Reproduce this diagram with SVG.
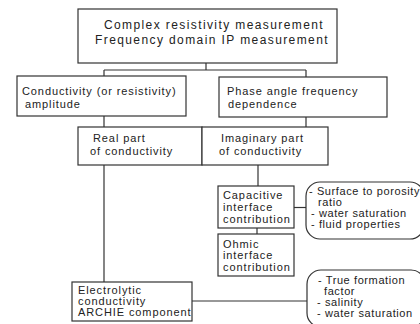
<svg xmlns="http://www.w3.org/2000/svg" width="420" height="324" viewBox="0 0 420 324">
<style>
.b{fill:#fff;stroke:#333;stroke-width:1.2}
.c{fill:none;stroke:#333;stroke-width:1.2}
text{font-family:"Liberation Sans",Arial,sans-serif;font-size:11px;fill:#222;letter-spacing:0.9px}
.t{font-size:12px;letter-spacing:1.4px}
.n{letter-spacing:0.6px}
</style>
<rect width="420" height="324" fill="#fff"/>
<g id="connectors">
<path class="c" d="M206,63V70M104,70H306M104,70V76M306,70V77"/>
<path class="c" d="M104,116V127M306,117V127"/>
<path class="c" d="M104,165V282"/>
<path class="c" d="M258,165V186"/>
<path class="c" d="M257,228V234"/>
<path class="c" d="M294,207.5H306"/>
<path class="c" d="M192,301H307"/>
</g>
<g id="top">
<rect class="b" x="78" y="9" width="259" height="54"/>
<text class="t" x="214" y="29" text-anchor="middle">Complex resistivity measurement</text>
<text class="t" x="212" y="44" text-anchor="middle">Frequency domain IP measurement</text>
</g>
<g id="amplitude">
<rect class="b" x="17" y="76" width="169" height="40"/>
<text x="22" y="95">Conductivity (or resistivity)</text>
<text x="25" y="108">amplitude</text>
</g>
<g id="phase">
<rect class="b" x="219" y="77" width="168" height="40"/>
<text x="227" y="95">Phase angle frequency</text>
<text x="228" y="108">dependence</text>
</g>
<g id="real">
<rect class="b" x="78" y="127" width="124" height="38"/>
<text x="93" y="142">Real part</text>
<text x="90" y="155">of conductivity</text>
</g>
<g id="imaginary">
<rect class="b" x="202" y="127" width="126" height="38"/>
<text x="221" y="142">Imaginary part</text>
<text x="219" y="155">of conductivity</text>
</g>
<g id="capacitive">
<rect class="b" x="218" y="186" width="76" height="42"/>
<text x="223" y="199">Capacitive</text>
<text x="223" y="211">interface</text>
<text x="223" y="223">contribution</text>
</g>
<g id="ohmic">
<rect class="b" x="218" y="234" width="76" height="42"/>
<text x="223" y="248">Ohmic</text>
<text x="223" y="259">interface</text>
<text x="223" y="271">contribution</text>
</g>
<g id="electrolytic">
<rect class="b" x="72" y="282" width="120" height="39"/>
<text x="78" y="294">Electrolytic</text>
<text x="78" y="305">conductivity</text>
<text x="78" y="316">ARCHIE component</text>
</g>
<g id="notes1">
<rect class="b" x="306" y="182" width="118" height="57" rx="14"/>
<text class="n" x="309" y="195">- Surface to porosity</text>
<text class="n" x="318" y="206">ratio</text>
<text class="n" x="311" y="217">- water saturation</text>
<text class="n" x="311" y="228">- fluid properties</text>
</g>
<g id="notes2">
<rect class="b" x="307" y="270" width="118" height="57" rx="14"/>
<text class="n" x="318" y="284">- True formation</text>
<text class="n" x="324" y="295">factor</text>
<text class="n" x="317" y="306">- salinity</text>
<text class="n" x="317" y="317">- water saturation</text>
</g>
</svg>
